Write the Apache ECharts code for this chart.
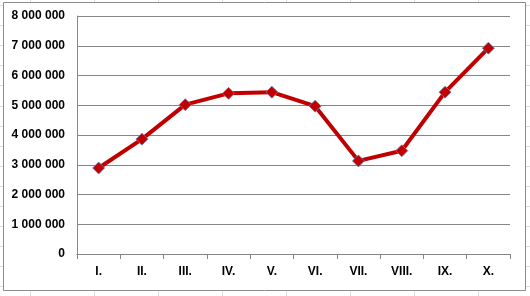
<!DOCTYPE html>
<html>
<head>
<meta charset="utf-8">
<script src="https://cdn.jsdelivr.net/npm/echarts@6/dist/echarts.min.js"></script>
<style>
html,body{margin:0;padding:0;background:#fff;}
#c{width:530px;height:296px;}
</style>
</head>
<body>
<div id="c"></div>
<script>
const categories = ['I.', 'II.', 'III.', 'IV.', 'V.', 'VI.', 'VII.', 'VIII.', 'IX.', 'X.'];
const values = [2890000, 3860000, 5020000, 5400000, 5440000, 4970000, 3130000, 3470000, 5440000, 6920000];
const yMin = 0, yMax = 8000000, yStep = 1000000;

function fmt(v) {
  return String(v).replace(/\B(?=(\d{3})+(?!\d))/g, ' ');
}

// decorative spreadsheet cell lines behind the chart
const bg = [];
const cellColor = '#dcdcdc';
const colXs = [30, 94, 158, 222, 286, 350, 414, 478];
colXs.forEach(x => bg.push({type:'line', shape:{x1:x+0.5,y1:0,x2:x+0.5,y2:296}, style:{stroke:cellColor,lineWidth:1}, z:-10}));
for (let i = 0; i < 15; i++) {
  const y = Math.round(5 + 20.1 * i) + 0.5;
  bg.push({type:'line', shape:{x1:0,y1:y,x2:530,y2:y}, style:{stroke:cellColor,lineWidth:1}, z:-10});
}
bg.push({type:'rect', shape:{x:3.5,y:2.5,width:522,height:288}, style:{fill:'#fff',stroke:'#8c8c8c',lineWidth:1}, z:-5});

const chart = echarts.init(document.getElementById('c'), null, {renderer:'canvas'});
chart.setOption({
  animation:false,
  backgroundColor:'#fff',
  graphic: bg,
  grid:{left:77, right:20, top:16, bottom:42, containLabel:false},
  xAxis:{
    type:'category',
    data:categories,
    boundaryGap:true,
    axisLine:{lineStyle:{color:'#868686', width:1}},
    axisTick:{show:true, length:5, lineStyle:{color:'#868686'}},
    axisLabel:{color:'#000', fontFamily:'Liberation Sans', fontWeight:'bold', fontSize:12, margin:12}
  },
  yAxis:{
    type:'value',
    min:yMin, max:yMax, interval:yStep,
    axisLine:{show:true, lineStyle:{color:'#868686', width:1}},
    axisTick:{show:false},
    splitLine:{lineStyle:{color:'#868686', width:1}},
    axisLabel:{color:'#000', fontFamily:'Liberation Sans', fontWeight:'bold', fontSize:12, margin:12, formatter:fmt}
  },
  series:[{
    type:'line',
    data:values,
    symbol:'diamond',
    symbolSize:12,
    lineStyle:{color:'#C00000', width:4},
    itemStyle:{color:'#C00000', borderColor:'#5b7fbf', borderWidth:0.8},
    z:5
  }]
});
</script>
</body>
</html>
